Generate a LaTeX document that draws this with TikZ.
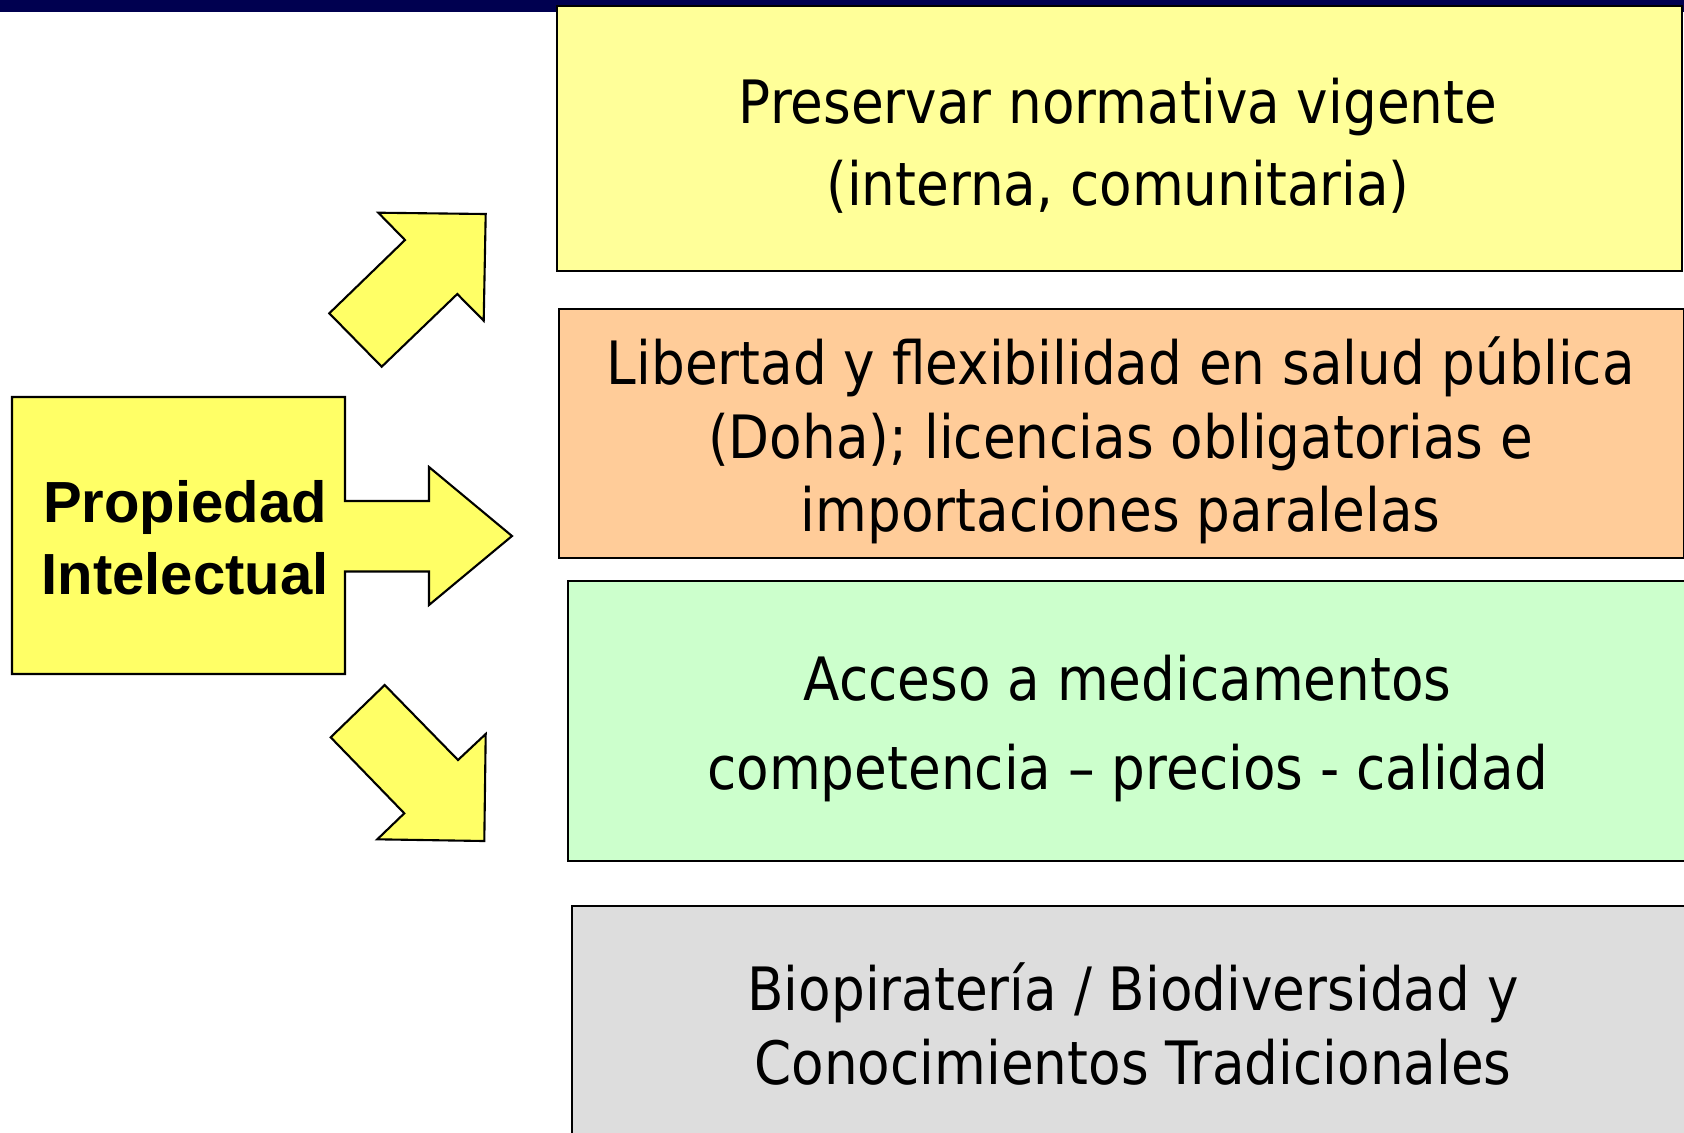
\documentclass[tikz,border=0pt]{standalone}
\usepackage{fontspec}
\setmainfont{DejaVu Sans}[FakeStretch=0.89]
\newfontfamily\arialfont{Liberation Sans}
\usepackage{tikz}
\usetikzlibrary{positioning}

\definecolor{barblue}{RGB}{0,0,80}
\definecolor{paleyellow}{RGB}{255,255,153}
\definecolor{paleorange}{RGB}{255,204,153}
\definecolor{palegreen}{RGB}{204,255,204}
\definecolor{palegray}{RGB}{221,221,221}
\definecolor{brightyellow}{RGB}{255,255,102}

\begin{document}
\begin{tikzpicture}[
    x=0.01cm, y=-0.01cm,
    panel/.style={rectangle, draw, line width=0.6pt, anchor=north west, inner sep=0pt},
    paneltext/.style={anchor=base, align=center, font=\fontsize{17}{#1}\selectfont},
    blockarrow/.style={draw, fill=brightyellow, line width=0.6pt, line join=miter},
    mainlabel/.style={anchor=base, align=center, font=\arialfont\bfseries\fontsize{16.5}{20.5}\selectfont}
]

\clip (0,0) rectangle (1684,1132);
\fill[white] (0,0) rectangle (1684,1132);

% Top bar
\fill[barblue] (0,0) rectangle (1684,12);

% Panels on the right
\node[panel, fill=paleyellow, minimum width=11.24cm, minimum height=2.65cm] (norma) at (556,5) {};
\node[panel, fill=paleorange, minimum width=11.24cm, minimum height=2.49cm] (salud) at (558,308) {};
\node[panel, fill=palegreen, minimum width=11.33cm, minimum height=2.80cm] (acceso) at (567,580) {};
\node[panel, fill=palegray, minimum width=11.29cm, minimum height=2.45cm] (biodiv) at (571,905) {};

% Panel texts (base = last line)
\node[paneltext=23.3pt] (normatxt) at (1118,205) {Preservar normativa vigente\\(interna, comunitaria)};
\node[paneltext=20.9pt] (saludtxt) at (1120.7,531.7) {Libertad y flexibilidad en salud pública\\(Doha); licencias obligatorias e\\importaciones paralelas};
\node[paneltext=25.2pt] (accesotxt) at (1127.6,789.3) {Acceso a medicamentos\\competencia – precios - calidad};
\node[paneltext=21pt] (biodivtxt) at (1133,1084) {Biopiratería / Biodiversidad y\\Conocimientos Tradicionales};

% Source box with the middle arrow
\draw[blockarrow] (12,397) -- (345,397) -- (345,501) -- (429,501) -- (429,467) -- (512,536)
    -- (429,605) -- (429,571.5) -- (345,571.5) -- (345,674) -- (12,674) -- cycle;
\node[mainlabel] (pi) at (185,594.5) {Propiedad\\Intelectual};

% Upper arrow
\draw[blockarrow] (381.7,366.7) -- (329.3,313.3) -- (405,240) -- (378.3,212.7) -- (485.7,214)
    -- (483.7,320.7) -- (457.3,294) -- cycle;

% Lower arrow
\draw[blockarrow] (384.7,685) -- (330.7,737.3) -- (404.3,813.3) -- (377.3,839.3) -- (484.3,841)
    -- (485.7,734) -- (458,760) -- cycle;

\end{tikzpicture}
\end{document}
